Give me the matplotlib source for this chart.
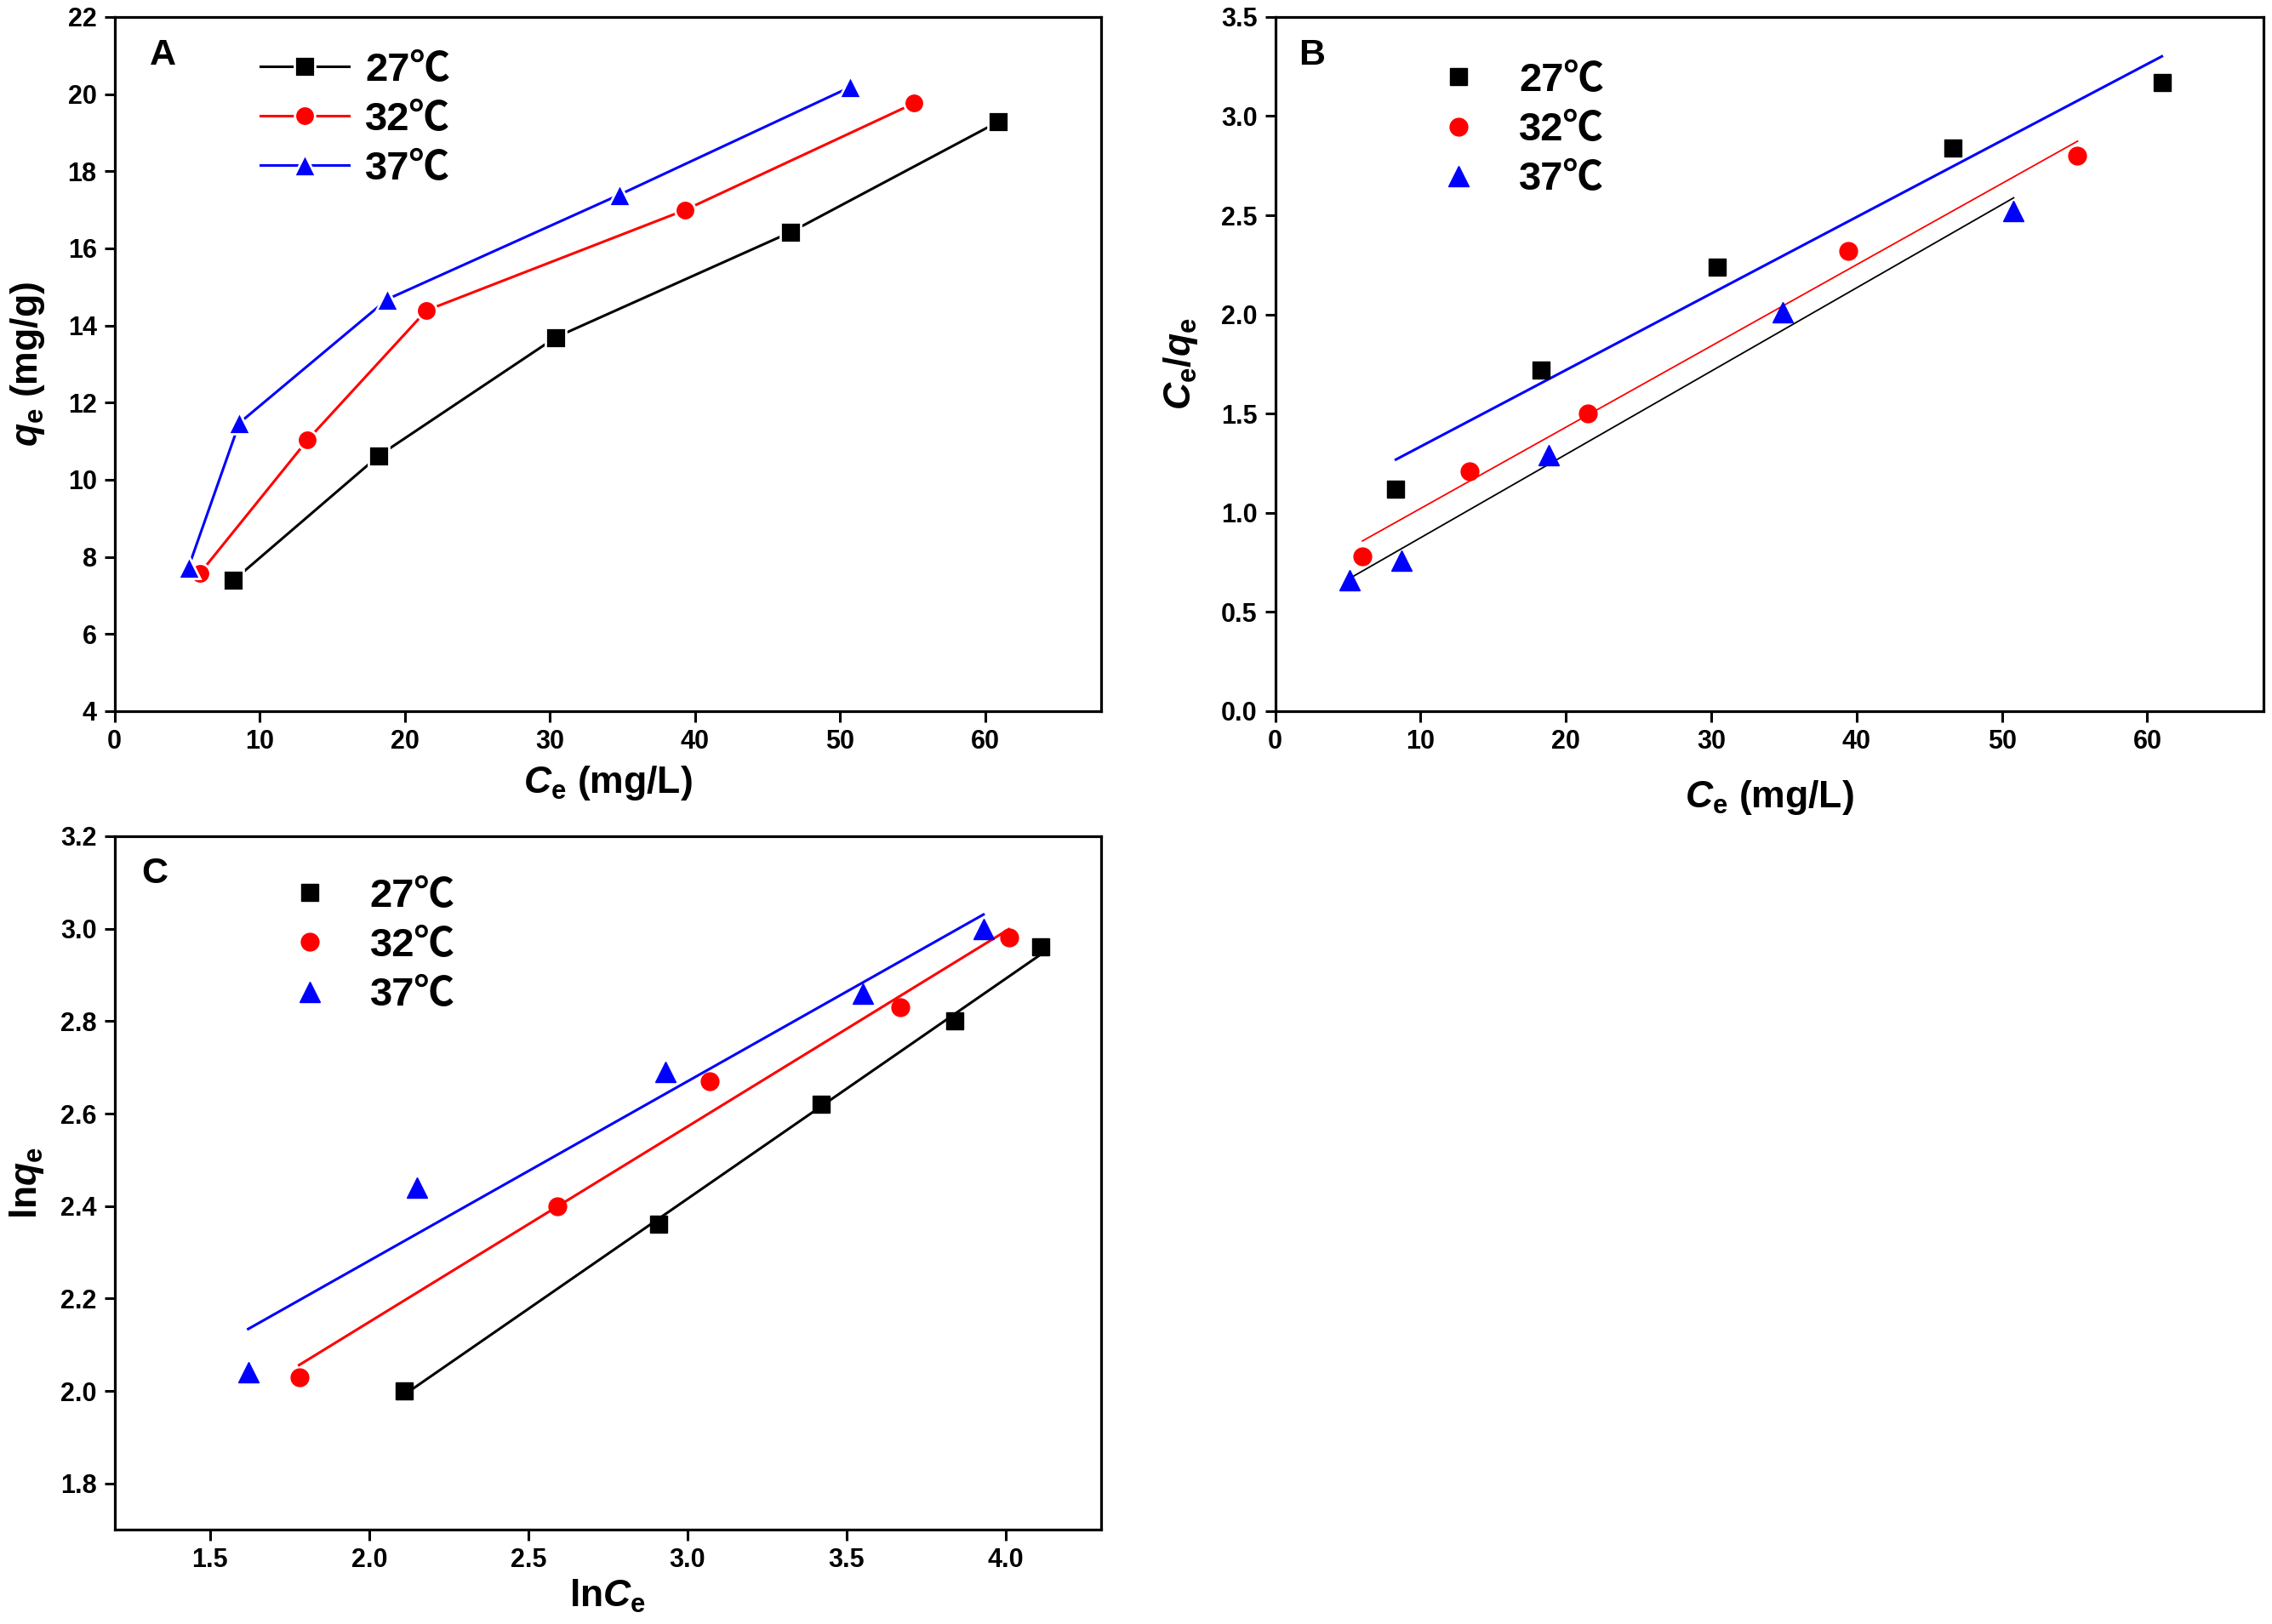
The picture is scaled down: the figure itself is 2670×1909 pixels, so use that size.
import numpy as np
import matplotlib
matplotlib.use('Agg')
import matplotlib.pyplot as plt
from matplotlib.ticker import MultipleLocator, FormatStrFormatter

# ---------------- data ----------------
temps = ['27℃', '32℃', '37℃']
colors = ['black', 'red', 'blue']
markers = ['s', 'o', '^']

# Panel A: qe vs Ce
ce_27 = [8.2, 18.2, 30.4, 46.6, 60.9]
qe_27 = [7.39, 10.62, 13.69, 16.42, 19.28]
ce_32 = [5.9, 13.3, 21.5, 39.3, 55.1]
qe_32 = [7.58, 11.03, 14.39, 16.99, 19.76]
ce_37 = [5.1, 8.6, 18.8, 34.8, 50.7]
qe_37 = [7.73, 11.47, 14.68, 17.39, 20.18]

# Panel B: Ce/qe vs Ce (Langmuir)
b_ce_27 = [8.3, 18.3, 30.4, 46.6, 61.0]
b_ratio_27 = [1.12, 1.72, 2.24, 2.84, 3.17]
b_ce_32 = [6.0, 13.35, 21.5, 39.4, 55.2]
b_ratio_32 = [0.78, 1.21, 1.50, 2.32, 2.80]
b_ce_37 = [5.1, 8.7, 18.8, 34.9, 50.8]
b_ratio_37 = [0.66, 0.76, 1.29, 2.01, 2.52]
b_fit_colors = ['blue', 'red', 'black']

# Panel C: lnqe vs lnCe (Freundlich)
lnce_27 = [2.11, 2.91, 3.42, 3.84, 4.11]
lnqe_27 = [2.00, 2.36, 2.62, 2.80, 2.96]
lnce_32 = [1.78, 2.59, 3.07, 3.67, 4.01]
lnqe_32 = [2.03, 2.40, 2.67, 2.83, 2.98]
lnce_37 = [1.62, 2.15, 2.93, 3.55, 3.93]
lnqe_37 = [2.04, 2.44, 2.69, 2.86, 3.00]

# ---------------- style ----------------
plt.rcParams['font.family'] = ['Liberation Sans', 'Noto Sans CJK SC', 'DejaVu Sans']
plt.rcParams['font.weight'] = 'bold'
plt.rcParams['mathtext.fontset'] = 'custom'
plt.rcParams['mathtext.rm'] = 'Liberation Sans:bold'
plt.rcParams['mathtext.it'] = 'Liberation Sans:italic:bold'
plt.rcParams['mathtext.bf'] = 'Liberation Sans:bold'
plt.rcParams['mathtext.sf'] = 'Liberation Sans'

TICK_FS = 22
LABEL_FS = 32
LEG_FS = 34
LETTER_FS = 31

fig = plt.figure(figsize=(26.7, 19.09), dpi=100)
axA = fig.add_axes([0.0504, 0.5621, 0.4343, 0.4275])
axB = fig.add_axes([0.5613, 0.5621, 0.4350, 0.4275])
axC = fig.add_axes([0.0504, 0.0581, 0.4343, 0.4270])


def style(ax):
    for sp in ax.spines.values():
        sp.set_linewidth(2.3)
    ax.tick_params(direction='out', length=9, width=2.2, labelsize=TICK_FS,
                   top=False, right=False, pad=6)
    for lab in ax.get_xticklabels() + ax.get_yticklabels():
        lab.set_fontweight('bold')


XLAB = r'$\mathit{C}_{\mathsf{e}}$ (mg/L)'

# ---------------- Panel A ----------------
A_x = [ce_27, ce_32, ce_37]
A_y = [qe_27, qe_32, qe_37]
for x, y, c, m, t in zip(A_x, A_y, colors, markers, temps):
    ms = 19 if m == '^' else 17
    axA.plot(x, y, color=c, marker=m, markersize=ms, markeredgecolor='white',
             markeredgewidth=2.0, linewidth=2.2, label=t)
axA.set_xlim(0, 68)
axA.set_ylim(4, 22)
axA.xaxis.set_major_locator(MultipleLocator(10))
axA.yaxis.set_major_locator(MultipleLocator(2))
axA.set_xlabel(XLAB, fontsize=LABEL_FS, fontweight='bold', labelpad=8)
axA.set_ylabel(r'$\mathit{q}_{\mathsf{e}}$ (mg/g)', fontsize=LABEL_FS, fontweight='bold', labelpad=18)
axA.text(0.049, 0.945, 'A', transform=axA.transAxes, fontsize=LETTER_FS,
         fontweight='bold', ha='center', va='center')
axA.legend(loc='upper left', bbox_to_anchor=(0.148, 0.950), frameon=False,
           fontsize=LEG_FS, handlelength=2.2, handletextpad=0.4,
           labelspacing=0.3, borderpad=0, borderaxespad=0)
style(axA)

# ---------------- Panel B ----------------
B_x = [b_ce_27, b_ce_32, b_ce_37]
B_y = [b_ratio_27, b_ratio_32, b_ratio_37]
fit_lw = [2.2, 1.3, 1.3]
for x, y, fc, lw in zip(B_x, B_y, b_fit_colors, fit_lw):
    k, b = np.polyfit(x, y, 1)
    xx = np.array([min(x), max(x)])
    axB.plot(xx, k * xx + b, color=fc, linewidth=lw, zorder=2)
for x, y, c, m, t in zip(B_x, B_y, colors, markers, temps):
    ms = 17 if m == '^' else 15
    axB.plot(x, y, linestyle='none', color=c, marker=m, markersize=ms, label=t, zorder=3)
axB.set_xlim(0, 68)
axB.set_ylim(0, 3.5)
axB.xaxis.set_major_locator(MultipleLocator(10))
axB.yaxis.set_major_locator(MultipleLocator(0.5))
axB.yaxis.set_major_formatter(FormatStrFormatter('%.1f'))
axB.set_xlabel(XLAB, fontsize=LABEL_FS, fontweight='bold', labelpad=20)
axB.set_ylabel(r'$\mathit{C}_{\mathsf{e}}/\mathit{q}_{\mathsf{e}}$', fontsize=LABEL_FS, fontweight='bold', labelpad=18)
axB.text(0.037, 0.945, 'B', transform=axB.transAxes, fontsize=LETTER_FS,
         fontweight='bold', ha='center', va='center')
axB.legend(loc='upper left', bbox_to_anchor=(0.145, 0.935), frameon=False,
           fontsize=LEG_FS, handlelength=2.0, handletextpad=0.5, numpoints=1,
           labelspacing=0.3, borderpad=0, borderaxespad=0)
style(axB)

# ---------------- Panel C ----------------
C_x = [lnce_27, lnce_32, lnce_37]
C_y = [lnqe_27, lnqe_32, lnqe_37]
for x, y, c in zip(C_x, C_y, colors):
    k, b = np.polyfit(x, y, 1)
    xx = np.array([min(x), max(x)])
    axC.plot(xx, k * xx + b, color=c, linewidth=2.2, zorder=2)
for x, y, c, m, t in zip(C_x, C_y, colors, markers, temps):
    ms = 17 if m == '^' else 15
    axC.plot(x, y, linestyle='none', color=c, marker=m, markersize=ms, label=t, zorder=3)
axC.set_xlim(1.2, 4.3)
axC.set_ylim(1.7, 3.2)
axC.xaxis.set_major_locator(MultipleLocator(0.5))
axC.yaxis.set_major_locator(MultipleLocator(0.2))
axC.xaxis.set_major_formatter(FormatStrFormatter('%.1f'))
axC.yaxis.set_major_formatter(FormatStrFormatter('%.1f'))
axC.set_xlabel(r'ln$\mathit{C}_{\mathsf{e}}$', fontsize=LABEL_FS, fontweight='bold', labelpad=4)
axC.set_ylabel(r'ln$\mathit{q}_{\mathsf{e}}$', fontsize=LABEL_FS, fontweight='bold', labelpad=12)
axC.text(0.041, 0.946, 'C', transform=axC.transAxes, fontsize=LETTER_FS,
         fontweight='bold', ha='center', va='center')
axC.legend(loc='upper left', bbox_to_anchor=(0.157, 0.940), frameon=False,
           fontsize=LEG_FS, handlelength=2.0, handletextpad=0.5, numpoints=1,
           labelspacing=0.3, borderpad=0, borderaxespad=0)
style(axC)

fig.savefig('out.png', dpi=100)
